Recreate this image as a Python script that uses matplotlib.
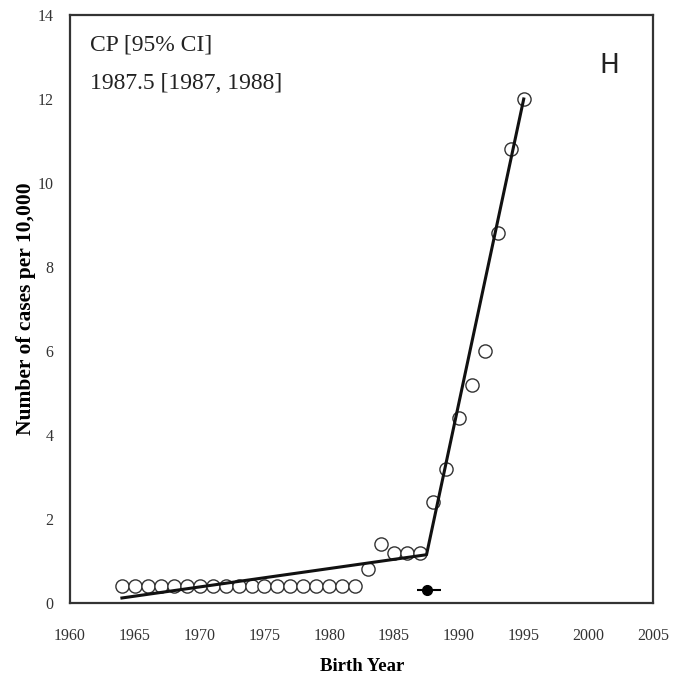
import matplotlib.pyplot as plt
import numpy as np

# dane
years = np.arange(1964, 1996)
cases = [0.4] * 19 + [0.8, 1.4, 1.2, 1.2, 1.2, 2.4, 3.2, 4.4, 5.2, 6.0, 8.8, 10.8, 12.0]

# linia segmentowa (joinpoint)
fit_x = [1964, 1987.5, 1995]
fit_y = [0.12, 1.15, 12.0]

cp = 1987.5
cp_low, cp_high = 1986.8, 1988.6
cp_y = 0.3

fig = plt.figure(figsize=(6.87, 6.81), dpi=100)
ax = fig.add_axes([0.102, 0.1145, 0.849, 0.8635])

ax.plot(years, cases, 'o', mfc='white', mec='#333333', ms=9.5, mew=1.0, zorder=2)
ax.plot(fit_x, fit_y, color='#111111', lw=2.2, zorder=3)
ax.errorbar([cp], [cp_y], xerr=[[cp - cp_low], [cp_high - cp]], fmt='o',
            color='black', ms=7, elinewidth=1.5, capsize=0, zorder=4)

ax.set_xlim(1960, 2005)
ax.set_ylim(0, 14)
ax.set_xticks(np.arange(1960, 2006, 5))
ax.set_yticks(np.arange(0, 15, 2))
ax.tick_params(length=0, labelsize=11.5, labelcolor='#333333')
ax.tick_params(axis='x', pad=18)
ax.tick_params(axis='y', pad=12)
for lab in ax.get_xticklabels() + ax.get_yticklabels():
    lab.set_family('Liberation Serif')

for s in ax.spines.values():
    s.set_linewidth(1.6)
    s.set_color('#333333')

ax.set_xlabel('Birth Year', family='Liberation Serif', fontweight='bold', fontsize=13.5, labelpad=10)
ax.set_ylabel('Number of cases per 10,000', family='Liberation Serif', fontweight='bold', fontsize=15.5, labelpad=1)

ax.text(0.034, 0.966, 'CP [95% CI]', transform=ax.transAxes, family='Liberation Serif',
        fontsize=17, va='top', color='#222222')
ax.text(0.034, 0.902, '1987.5 [1987, 1988]', transform=ax.transAxes, family='Liberation Serif',
        fontsize=17, va='top', color='#222222')
ax.text(0.925, 0.935, 'H', transform=ax.transAxes, family='DejaVu Sans',
        fontsize=19, va='top', ha='center', color='#222222')

fig.savefig('out.png', dpi=100)
